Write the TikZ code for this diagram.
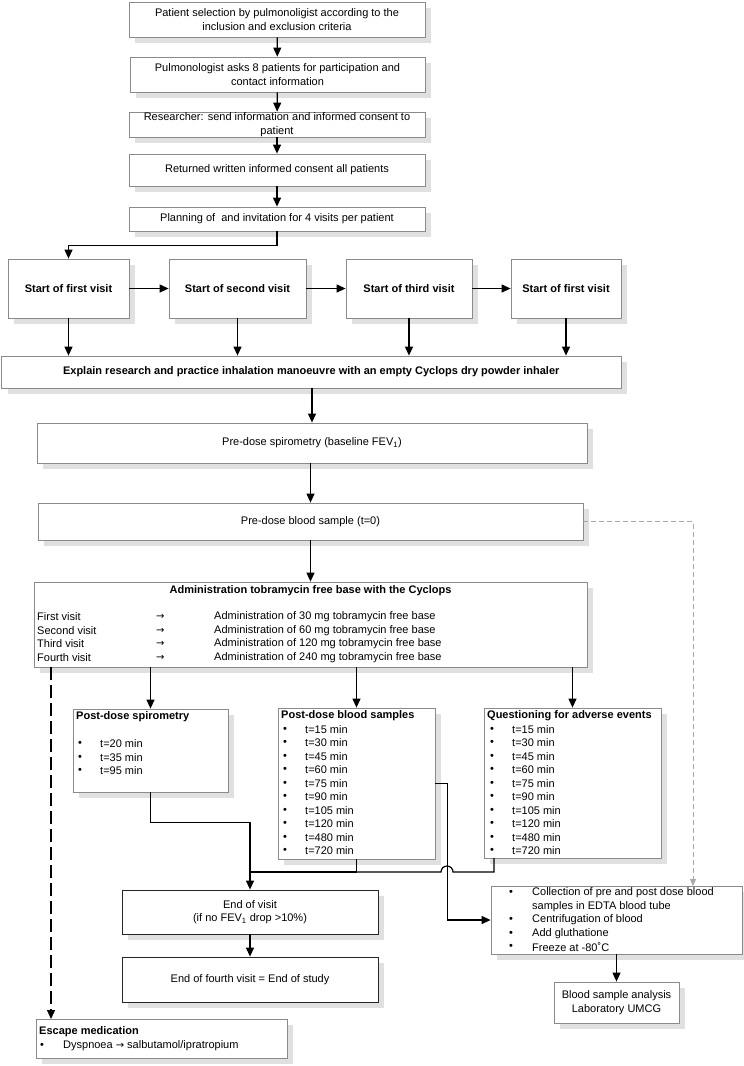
\documentclass[tikz,border=0pt]{standalone}
\usepackage{fontspec}
\setmainfont{Liberation Sans}
\newfontfamily\arrfont{DejaVu Sans}
\usetikzlibrary{arrows.meta}
\definecolor{bord}{HTML}{8A8A8A}
\definecolor{dgray}{HTML}{A8A8A8}
\newcommand\mkshadow[4]{\fill[black!12] ({#1-#3/2+6},{#2-#4/2+6}) rectangle ({#1+#3/2+6},{#2+#4/2+6});}
\begin{document}
\begin{tikzpicture}[x=1pt,y=-1pt,
  font=\fontsize{11}{13.4}\selectfont,
  box/.style={draw=bord, line width=0.8pt, fill=white, inner sep=0pt, align=center},
  dbox/.style={box, draw=black!85},
  bbox/.style={box, font=\fontsize{11}{13.4}\selectfont\bfseries},
  arr/.style={line width=1.2pt, -{Triangle[length=9pt,width=8pt]}},
  ln/.style={line width=1.2pt},
  txt/.style={inner sep=0pt, anchor=west},
  ttl/.style={inner sep=0pt, anchor=west, font=\fontsize{11}{13.4}\selectfont\bfseries},
  garr/.style={draw=dgray, line width=0.8pt, dash pattern=on 5pt off 3pt, -{Triangle[length=7pt,width=6pt]}},
  larr/.style={line width=1.2pt, dash pattern=on 13pt off 5pt, -{Triangle[length=9pt,width=8pt]}}]

\useasboundingbox (0,0) rectangle (744,1066);

% shadows (drawn first, behind boxes)
\mkshadow{277}{19.5}{296}{35}
\mkshadow{277.5}{74.5}{295}{35}
\mkshadow{277}{124.5}{296}{25}
\mkshadow{277}{170}{296}{32}
\mkshadow{277}{219}{296}{24}
\mkshadow{68.5}{288.5}{121}{59}
\mkshadow{237.5}{288.5}{137}{59}
\mkshadow{409}{288.5}{126}{59}
\mkshadow{566}{288.5}{110}{59}
\mkshadow{311.25}{372}{619.5}{32}
\mkshadow{312}{443}{550}{40}
\mkshadow{310.5}{521.5}{545}{37}
\mkshadow{310.5}{624.5}{553}{85}
\mkshadow{150.5}{750.5}{155}{83}
\mkshadow{356.5}{783.5}{157}{151}
\mkshadow{572.5}{783}{177}{150}
\mkshadow{250}{912}{256}{44}
\mkshadow{250}{979.5}{256}{45}
\mkshadow{161.5}{1038.5}{251}{39}
\mkshadow{616.5}{920}{251}{68}
\mkshadow{616.5}{1002.5}{125}{41}

% top chain
\node[box, minimum width=296pt, minimum height=35pt] (b1) at (277,19.5) {Patient selection by pulmonoligist according to the\\inclusion and exclusion criteria};
\node[box, minimum width=295pt, minimum height=35pt] (b2) at (277.5,74.5) {Pulmonologist asks 8 patients for participation and\\contact information};
\node[box, minimum width=296pt, minimum height=25pt] (b3) at (277,124.5) {Researcher: send information and informed consent to\\patient};
\node[box, minimum width=296pt, minimum height=32pt] (b4) at (277,170) {Returned written informed consent all patients};
\node[box, minimum width=296pt, minimum height=24pt] (b5) at (277,219) {Planning of \ and invitation for 4 visits per patient};

% visits
\node[bbox, minimum width=121pt, minimum height=59pt] (vA) at (68.5,288.5) {Start of first visit};
\node[bbox, minimum width=137pt, minimum height=59pt] (vB) at (237.5,288.5) {Start of second visit};
\node[bbox, minimum width=126pt, minimum height=59pt] (vC) at (409,288.5) {Start of third visit};
\node[bbox, minimum width=110pt, minimum height=59pt] (vD) at (566,288.5) {Start of first visit};

\node[bbox, minimum width=619.5pt, minimum height=32pt] (ex) at (311.25,372) {Explain research and practice inhalation manoeuvre with an empty Cyclops dry powder inhaler};
\node[box, minimum width=550pt, minimum height=40pt] (sp) at (312,443) {Pre-dose spirometry (baseline FEV\textsubscript{1})};
\node[box, minimum width=545pt, minimum height=37pt] (pre2) at (310.5,521.5) {Pre-dose blood sample (t=0)};

% administration
\node[box, minimum width=553pt, minimum height=85pt] (adm) at (310.5,624.5) {};
\node[inner sep=0pt, font=\fontsize{11}{13.4}\selectfont\bfseries] (admt) at (310.5,591) {Administration tobramycin free base with the Cyclops};
\foreach \n/\d [count=\i from 0] in {First visit/30, Second visit/60, Third visit/120, Fourth visit/240}{
  \node[txt] (adv\i) at (37,617+13.5*\i) {\n};
  \node[txt] (ada\i) at (156,617+13.5*\i) {\arrfont\fontsize{10}{12}\selectfont →};
  \node[txt] (add\i) at (214,617+13.5*\i) {Administration of \d\ mg tobramycin free base};
}

% post-dose spirometry
\node[box, minimum width=155pt, minimum height=83pt] (ps) at (150.5,750.5) {};
\node[ttl] (pst) at (76,717) {Post-dose spirometry};
\foreach \t [count=\i from 0] in {20,35,95}{
  \node[txt] (psb\i) at (78,744+13.5*\i) {•};
  \node[txt] (pse\i) at (100,744+13.5*\i) {t=\t\ min};
}

% post-dose blood samples
\node[box, minimum width=157pt, minimum height=151pt] (pb) at (356.5,783.5) {};
\node[ttl] (pbt) at (281,716) {Post-dose blood samples};
\foreach \t [count=\i from 0] in {15,30,45,60,75,90,105,120,480,720}{
  \node[txt] (pbb\i) at (283,729.5+13.5*\i) {•};
  \node[txt] (pbe\i) at (305,729.5+13.5*\i) {t=\t\ min};
}

% questioning
\node[box, minimum width=177pt, minimum height=150pt] (q) at (572.5,783) {};
\node[ttl] (qt) at (487,716) {Questioning for adverse events};
\foreach \t [count=\i from 0] in {15,30,45,60,75,90,105,120,480,720}{
  \node[txt] (qb\i) at (490,729.5+13.5*\i) {•};
  \node[txt] (qe\i) at (512,729.5+13.5*\i) {t=\t\ min};
}

% end boxes
\node[dbox, minimum width=256pt, minimum height=44pt] (ev) at (250,912) {End of visit\\(if no FEV\textsubscript{1} drop >10\%)};
\node[dbox, minimum width=256pt, minimum height=45pt] (es) at (250,979.5) {End of fourth visit = End of study};

% escape
\node[box, minimum width=251pt, minimum height=39pt] (esc) at (161.5,1038.5) {};
\node[ttl] (esct) at (39,1032) {Escape medication};
\node[txt] (escb) at (40,1045.5) {•};
\node[txt] (esce) at (63,1045.5) {Dyspnoea {\arrfont\fontsize{10}{12}\selectfont →} salbutamol/ipratropium};

% collection
\node[box, minimum width=251pt, minimum height=68pt] (col) at (616.5,920) {};
\node[txt] (cb0) at (509,893) {•};
\node[txt] (ce0) at (532,893) {Collection of pre and post dose blood};
\node[txt] (ce1) at (532,906.5) {samples in EDTA blood tube};
\node[txt] (cb2) at (509,920) {•};
\node[txt] (ce2) at (532,920) {Centrifugation of blood};
\node[txt] (cb3) at (509,933.5) {•};
\node[txt] (ce3) at (532,933.5) {Add gluthatione};
\node[txt] (cb4) at (509,947) {•};
\node[txt] (ce4) at (532,947) {Freeze at -80˚C};

\node[box, minimum width=125pt, minimum height=41pt] (ana) at (616.5,1002.5) {Blood sample analysis\\Laboratory UMCG};

% connectors
\draw[arr] (b1) -- (b2);
\draw[arr] (b2) -- (b3);
\draw[arr] (b3) -- (b4);
\draw[arr] (b4) -- (b5);
\draw[arr] (b5.south) -- ++(0,14) -| (vA.north);
\draw[arr] (vA) -- (vB);
\draw[arr] (vB) -- (vC);
\draw[arr] (vC) -- (vD);
\foreach \v in {vA,vB,vC,vD}{ \draw[arr] (\v.south) -- (\v.south |- ex.north); }
\draw[arr] (ex.south -| sp.north) -- (sp.north);
\draw[arr] (sp.south -| pre2.north) -- (pre2.north);
\draw[arr] (pre2) -- (pre2.south |- adm.north);
\draw[arr] (ps.north |- adm.south) -- (ps.north);
\draw[arr] (pb.north |- adm.south) -- (pb.north);
\draw[arr] (q.north |- adm.south) -- (q.north);
\coordinate (escin) at (51,1019);
\draw[larr] (escin |- adm.south) -- (escin);

\coordinate (merge) at (250,872);
\draw[arr] (ps.south) -- ++(0,30) -| (ev.north);
\draw[ln] (pb.south) |- (merge);
\coordinate (qout) at (494,858);
\draw[ln] (qout) -- (494,872) -- (453,872) arc[start angle=0,end angle=180,radius=6pt] -- (merge);
\draw[arr] (pb.east) -- ++(12,0) |- (col.west);
\draw[arr] (ev) -- (es);

\coordinate (colin) at (693,886);
\draw[garr] (pre2.east) -| (colin);
\draw[arr] (col) -- (ana);
\end{tikzpicture}
\end{document}
